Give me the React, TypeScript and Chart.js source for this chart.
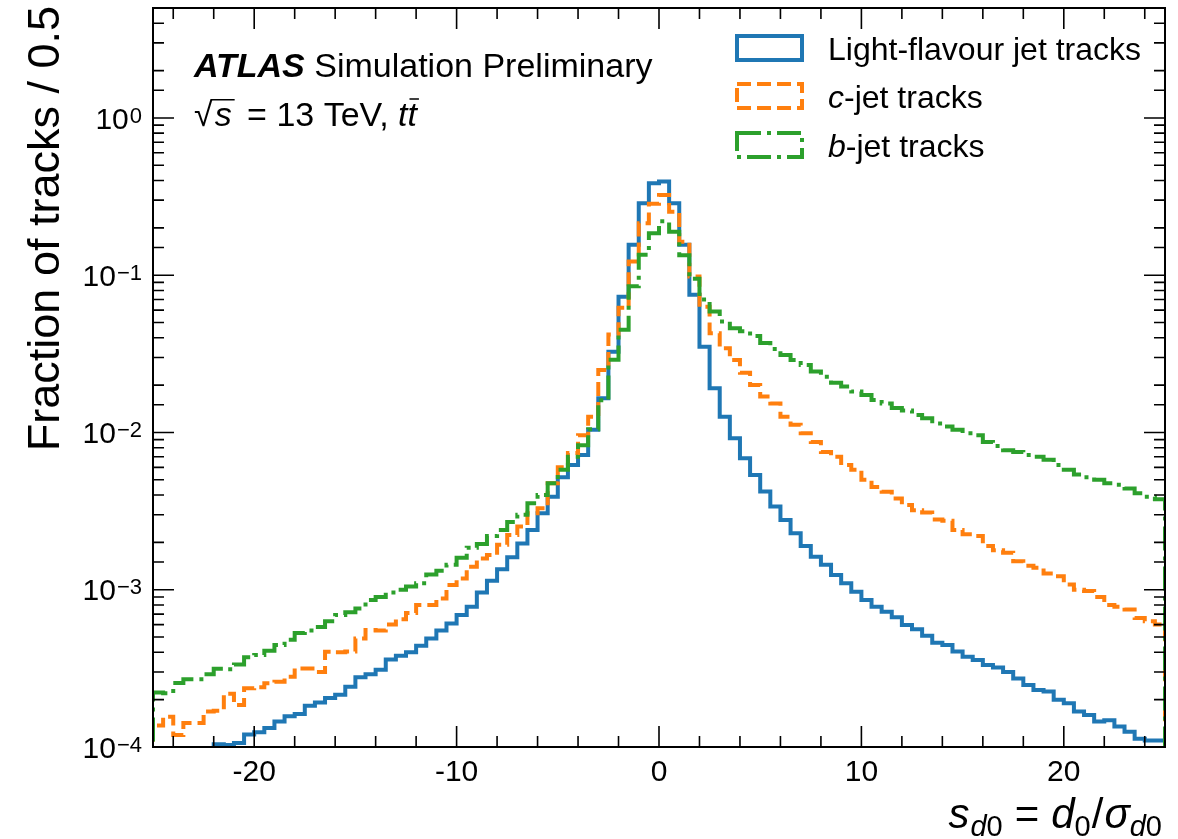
import React, { useEffect, useRef } from 'react';
import { Chart, registerables } from 'chart.js';

Chart.register(...registerables);

// ---------------- data ----------------
const BIN_LOW = -25;
const BIN_WIDTH = 0.5;
const X_MIN = -25;
const X_MAX = 25;
const Y_MIN = 1e-4;
const Y_MAX = 5;
const FLOOR = 1e-6;

const lightFlavourTracks = [
  7.0e-5, 7.3e-5, 7.8e-5, 8.2e-5, 8.8e-5, 9.4e-5, 1.04e-4, 1.03e-4, 1.06e-4, 1.2e-4,
  1.24e-4, 1.32e-4, 1.45e-4, 1.57e-4, 1.62e-4, 1.83e-4, 1.92e-4, 2.05e-4, 2.15e-4, 2.42e-4,
  2.78e-4, 2.9e-4, 3.1e-4, 3.6e-4, 3.8e-4, 4.0e-4, 4.4e-4, 4.9e-4, 5.5e-4, 6.1e-4,
  6.9e-4, 7.8e-4, 9.6e-4, 1.14e-3, 1.35e-3, 1.61e-3, 1.97e-3, 2.4e-3, 3.06e-3, 3.9e-3,
  5.2e-3, 6.2e-3, 7.2e-3, 1.04e-2, 1.65e-2, 3.26e-2, 7.3e-2, 0.156, 0.287, 0.384,
  0.394, 0.287, 0.156, 0.0752, 0.0351, 0.0191, 0.0126, 9.2e-3, 6.85e-3, 5.37e-3,
  4.21e-3, 3.38e-3, 2.78e-3, 2.29e-3, 1.9e-3, 1.62e-3, 1.44e-3, 1.24e-3, 1.1e-3, 9.7e-4,
  8.6e-4, 7.8e-4, 7.25e-4, 6.68e-4, 5.97e-4, 5.6e-4, 5.1e-4, 4.6e-4, 4.45e-4, 4.05e-4,
  3.75e-4, 3.58e-4, 3.32e-4, 3.2e-4, 3.0e-4, 2.73e-4, 2.48e-4, 2.3e-4, 2.25e-4, 2.0e-4,
  1.9e-4, 1.68e-4, 1.6e-4, 1.45e-4, 1.48e-4, 1.35e-4, 1.25e-4, 1.13e-4, 1.1e-4, 1.1e-4,
];

const cJetTracks = [
  1.37e-4, 1.56e-4, 1.19e-4, 1.42e-4, 1.42e-4, 1.68e-4, 1.7e-4, 2.18e-4, 1.85e-4, 2.36e-4,
  2.4e-4, 2.54e-4, 2.6e-4, 2.8e-4, 3.16e-4, 3.16e-4, 3.0e-4, 4.04e-4, 4.0e-4, 4.05e-4,
  4.9e-4, 5.55e-4, 5.5e-4, 6.0e-4, 6.5e-4, 7.1e-4, 8.0e-4, 8.0e-4, 8.8e-4, 1.07e-3,
  1.18e-3, 1.4e-3, 1.58e-3, 1.66e-3, 1.93e-3, 2.23e-3, 2.52e-3, 3.06e-3, 3.3e-3, 4.75e-3,
  6.0e-3, 7.4e-3, 9.6e-3, 1.26e-2, 2.5e-2, 4.2e-2, 6.2e-2, 0.122, 0.214, 0.285,
  0.324, 0.253, 0.163, 0.098, 0.063, 0.0427, 0.0343, 0.0289, 0.024, 0.02,
  0.0169, 0.0153, 0.0126, 0.0112, 9.9e-3, 8.7e-3, 7.5e-3, 7.0e-3, 6.2e-3, 5.8e-3,
  5.0e-3, 4.5e-3, 4.2e-3, 3.8e-3, 3.46e-3, 3.2e-3, 3.1e-3, 2.8e-3, 2.75e-3, 2.4e-3,
  2.25e-3, 2.2e-3, 1.9e-3, 1.78e-3, 1.72e-3, 1.52e-3, 1.42e-3, 1.38e-3, 1.27e-3, 1.22e-3,
  1.08e-3, 1.0e-3, 9.8e-4, 9.0e-4, 8.0e-4, 7.8e-4, 7.5e-4, 6.6e-4, 6.3e-4, 6.0e-4,
];

const bJetTracks = [
  2.22e-4, 2.2e-4, 2.55e-4, 2.7e-4, 2.7e-4, 2.9e-4, 3.15e-4, 3.12e-4, 3.35e-4, 3.72e-4,
  3.85e-4, 4.1e-4, 4.45e-4, 4.8e-4, 5.3e-4, 5.5e-4, 5.8e-4, 6.3e-4, 6.9e-4, 7.2e-4,
  7.6e-4, 8.6e-4, 9.0e-4, 9.6e-4, 1.0e-3, 1.05e-3, 1.1e-3, 1.25e-3, 1.32e-3, 1.44e-3,
  1.6e-3, 1.85e-3, 1.95e-3, 2.2e-3, 2.4e-3, 2.7e-3, 3.0e-3, 3.55e-3, 4.0e-3, 4.75e-3,
  5.8e-3, 7.0e-3, 8.3e-3, 1.05e-2, 1.6e-2, 2.9e-2, 4.5e-2, 8.5e-2, 0.135, 0.185,
  0.22, 0.189, 0.134, 0.095, 0.07, 0.0587, 0.0507, 0.046, 0.044, 0.041,
  0.037, 0.034, 0.0311, 0.0289, 0.0269, 0.0244, 0.0226, 0.0207, 0.0196, 0.0182,
  0.0173, 0.0161, 0.0153, 0.0143, 0.0138, 0.0129, 0.0123, 0.0114, 0.0109, 0.0104,
  9.9e-3, 9.6e-3, 8.7e-3, 8.2e-3, 7.7e-3, 7.5e-3, 7.2e-3, 7.0e-3, 6.7e-3, 6.2e-3,
  5.8e-3, 5.4e-3, 5.2e-3, 5.0e-3, 4.75e-3, 4.65e-3, 4.4e-3, 4.1e-3, 3.9e-3, 3.76e-3,
];

const xTickValues = [-24, -22, -20, -18, -16, -14, -12, -10, -8, -6, -4, -2, 0, 2, 4, 6, 8, 10, 12, 14, 16, 18, 20, 22, 24];
const xTickLabelValues = [-20, -10, 0, 10, 20];
const yDecadeExponents = [-4, -3, -2, -1, 0];

const seriesColors = ['#1f77b4', '#ff7f0e', '#2ca02c'];
const seriesDashes: number[][] = [[], [14, 6], [24, 6, 4, 6]];
const legendItalic = ['', 'c', 'b'];
const legendRest = ['Light-flavour jet tracks', '-jet tracks', '-jet tracks'];

const FONT = '"Liberation Sans", Arial, Helvetica, sans-serif';
const LINE_W = 4;

// ---------------- helpers ----------------
function histPoints(vals: number[]) {
  const pts: { x: number; y: number }[] = [{ x: BIN_LOW, y: FLOOR }];
  vals.forEach((v, i) => pts.push({ x: BIN_LOW + i * BIN_WIDTH, y: v }));
  const end = BIN_LOW + vals.length * BIN_WIDTH;
  pts.push({ x: end, y: vals[vals.length - 1] });
  pts.push({ x: end, y: FLOOR });
  return pts;
}

type Run = { text: string; font: string; dy?: number; gapBefore?: number; gapAfter?: number };

function drawRuns(ctx: CanvasRenderingContext2D, runs: Run[], x: number, y: number, align: 'left' | 'right' = 'left') {
  const widths = runs.map((r) => {
    ctx.font = r.font;
    return ctx.measureText(r.text).width + (r.gapBefore || 0) + (r.gapAfter || 0);
  });
  const total = widths.reduce((a, b) => a + b, 0);
  let cx = align === 'right' ? x - total : x;
  const starts: number[] = [];
  const textW: number[] = [];
  runs.forEach((r, i) => {
    ctx.font = r.font;
    ctx.fillText(r.text, cx + (r.gapBefore || 0), y + (r.dy || 0));
    starts.push(cx + (r.gapBefore || 0));
    textW.push(ctx.measureText(r.text).width);
    cx += widths[i];
  });
  return { starts, widths: textW, end: cx };
}

const decorations = {
  id: 'atlasDecorations',
  afterDraw(chart: any) {
    const { ctx, chartArea: a, scales } = chart;
    const xs = scales.x;
    const ys = scales.y;
    ctx.save();
    ctx.setLineDash([]);
    ctx.strokeStyle = '#000';
    ctx.fillStyle = '#000';

    // frame
    ctx.lineWidth = 2;
    ctx.strokeRect(a.left, a.top, a.right - a.left, a.bottom - a.top);

    // inward ticks on all four sides
    ctx.lineWidth = 1.6;
    ctx.beginPath();
    xs.ticks.forEach((t: any) => {
      const px = xs.getPixelForValue(t.value);
      const len = t.value % 10 === 0 ? 21 : 11;
      ctx.moveTo(px, a.bottom);
      ctx.lineTo(px, a.bottom - len);
      ctx.moveTo(px, a.top);
      ctx.lineTo(px, a.top + len);
    });
    ys.ticks.forEach((t: any) => {
      const v = t.value;
      if (v < Y_MIN * 0.999 || v > Y_MAX * 0.999) return;
      const py = ys.getPixelForValue(v);
      const e = Math.log10(v);
      const major = Math.abs(e - Math.round(e)) < 1e-6;
      const len = major ? 21 : 11;
      ctx.moveTo(a.left, py);
      ctx.lineTo(a.left + len, py);
      ctx.moveTo(a.right, py);
      ctx.lineTo(a.right - len, py);
    });
    ctx.stroke();

    // y tick labels 10^n
    ctx.textBaseline = 'alphabetic';
    ctx.textAlign = 'left';
    yDecadeExponents.forEach((e) => {
      const py = ys.getPixelForValue(Math.pow(10, e));
      const expText = e < 0 ? '\u2212' + String(-e) : String(e);
      drawRuns(
        ctx,
        [
          { text: '10', font: `30px ${FONT}` },
          { text: expText, font: `22px ${FONT}`, dy: -6, gapBefore: 1 },
        ],
        142,
        py + 10.7,
        'right'
      );
    });

    // y title
    ctx.save();
    ctx.translate(59, 6);
    ctx.rotate(-Math.PI / 2);
    ctx.font = `45px ${FONT}`;
    ctx.textAlign = 'right';
    ctx.textBaseline = 'alphabetic';
    ctx.fillText('Fraction of tracks / 0.5', 0, 0);
    ctx.restore();

    // x title: s_d0 = d_0 / sigma_d0
    ctx.textAlign = 'left';
    const big = `italic 42px ${FONT}`;
    const bigUp = `42px ${FONT}`;
    const subI = `italic 29px ${FONT}`;
    const subU = `29px ${FONT}`;
    drawRuns(
      ctx,
      [
        { text: 's', font: big },
        { text: 'd', font: subI, dy: 8, gapBefore: 1 },
        { text: '0', font: subU, dy: 8 },
        { text: '=', font: bigUp, gapBefore: 12, gapAfter: 12 },
        { text: 'd', font: big },
        { text: '0', font: subU, dy: 8 },
        { text: '/', font: bigUp, gapBefore: 1 },
        { text: '\u03c3', font: big, gapBefore: 1 },
        { text: 'd', font: subI, dy: 8 },
        { text: '0', font: subU, dy: 8 },
      ],
      1162,
      828,
      'right'
    );

    // ATLAS label
    const lab = `34px ${FONT}`;
    const labI = `italic 34px ${FONT}`;
    drawRuns(
      ctx,
      [
        { text: 'ATLAS', font: `italic bold 34px ${FONT}` },
        { text: ' Simulation Preliminary', font: lab },
      ],
      194,
      77
    );
    // sqrt(s) = 13 TeV, ttbar
    const base2 = 126;
    ctx.font = lab;
    const sq = ctx.measureText('\u221a');
    const r = drawRuns(
      ctx,
      [
        { text: '\u221a', font: lab },
        { text: 's', font: labI, gapBefore: 2, gapAfter: 6 },
        { text: ' = 13 TeV, ', font: lab },
        { text: 't', font: labI },
        { text: 't', font: labI },
      ],
      194,
      base2
    );
    ctx.lineWidth = 1.6;
    ctx.beginPath();
    const sqTop = base2 - sq.actualBoundingBoxAscent + 0.8;
    ctx.moveTo(194 + sq.actualBoundingBoxRight - 1, sqTop);
    ctx.lineTo(r.starts[1] + r.widths[1] + 3, sqTop);
    // bar over second t
    ctx.moveTo(r.starts[4] + 2, base2 - 27);
    ctx.lineTo(r.starts[4] + r.widths[4] + 2, base2 - 27);
    ctx.stroke();

    // legend
    const rowTop = [36, 84, 133];
    const rowBase = [60, 107.5, 156.5];
    seriesColors.forEach((c, i) => {
      ctx.save();
      ctx.strokeStyle = c;
      ctx.lineWidth = LINE_W;
      ctx.lineJoin = 'miter';
      ctx.setLineDash(seriesDashes[i]);
      ctx.strokeRect(737, rowTop[i], 65, 24);
      ctx.restore();
      const runs: Run[] = [];
      if (legendItalic[i]) runs.push({ text: legendItalic[i], font: `italic 32px ${FONT}` });
      runs.push({ text: legendRest[i], font: `32px ${FONT}` });
      drawRuns(ctx, runs, 828, rowBase[i]);
    });

    ctx.restore();
  },
};

export default function App() {
  const ref = useRef<HTMLCanvasElement | null>(null);

  useEffect(() => {
    if (!ref.current) return;
    const series = [lightFlavourTracks, cJetTracks, bJetTracks];
    const chart = new Chart(ref.current, {
      type: 'line',
      data: {
        datasets: series.map((vals, i) => ({
          label: legendItalic[i] + legendRest[i],
          data: histPoints(vals),
          borderColor: seriesColors[i],
          borderWidth: LINE_W,
          borderDash: seriesDashes[i],
          borderCapStyle: 'butt',
          borderJoinStyle: 'miter',
          stepped: 'before',
          fill: false,
          pointRadius: 0,
          pointHoverRadius: 0,
          order: 3 - i,
        })) as any,
      },
      options: {
        animation: false,
        responsive: false,
        events: [],
        layout: { padding: { top: 8, right: 13, left: 0, bottom: 0 } },
        plugins: {
          legend: { display: false },
          tooltip: { enabled: false },
          title: { display: false },
        },
        scales: {
          x: {
            type: 'linear',
            min: X_MIN,
            max: X_MAX,
            grid: { display: false, drawTicks: false },
            border: { display: false },
            afterBuildTicks: (scale: any) => {
              scale.ticks = xTickValues.map((v) => ({ value: v }));
            },
            afterFit: (scale: any) => {
              scale.height = 92;
            },
            ticks: {
              autoSkip: false,
              maxRotation: 0,
              minRotation: 0,
              padding: 8,
              color: '#000',
              font: { family: FONT, size: 30 },
              callback: (value: any) => (xTickLabelValues.includes(Number(value)) ? String(value) : ''),
            },
          },
          y: {
            type: 'logarithmic',
            min: Y_MIN,
            max: Y_MAX,
            grid: { display: false, drawTicks: false },
            border: { display: false },
            ticks: { display: false },
            afterFit: (scale: any) => {
              scale.width = 153;
            },
          },
        },
      } as any,
      plugins: [decorations],
    });
    return () => chart.destroy();
  }, []);

  return (
    <div style={{ position: 'absolute', left: 0, top: 0, width: 1178, height: 839, background: '#fff' }}>
      <canvas ref={ref} width={1178} height={839} style={{ display: 'block', width: 1178, height: 839 }} />
    </div>
  );
}
